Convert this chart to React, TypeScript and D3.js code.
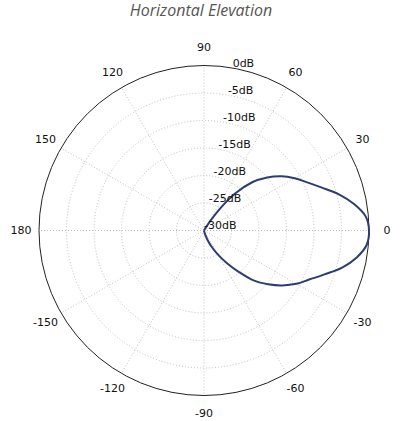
import React from "react";
import * as d3 from "d3";

// Pattern data: angle in degrees (0 = right, counter-clockwise positive), gain in dB
const angles = [-180, -80, -75, -70, -65, -60, -55, -50, -45, -40, -35, -30, -25, -20, -15, -10, -5, 0, 5, 10, 15, 20, 25, 30, 35, 40, 45, 50, 55, 60, 65];
const gains = [-30, -30, -29.5, -28.2, -26.8, -25.0, -22.8, -20.2, -17.1, -14.8, -12.6, -10.6, -8.9, -6.7, -4.0, -1.8, -0.3, 0, -0.5, -2.3, -4.6, -7.2, -9.3, -11.0, -12.8, -15.0, -17.6, -21.3, -26.3, -29.5, -30];

const ringValues = [0, -5, -10, -15, -20, -25, -30];
const ringLabels = ["0dB", "-5dB", "-10dB", "-15dB", "-20dB", "-25dB", "-30dB"];
const spokeAngles = [0, 30, 60, 90, 120, 150, 180, -150, -120, -90, -60, -30];
const spokeLabels = ["0", "30", "60", "90", "120", "150", "180", "-150", "-120", "-90", "-60", "-30"];
const title = "Horizontal Elevation";

export default function App() {
  const W = 400, H = 421;
  const cx = 204, cy = 230.5, R = 165;
  const r = d3.scaleLinear().domain([-30, 0]).range([0, R]).clamp(true);
  const toXY = (deg: number, rad: number): [number, number] => {
    const a = (deg * Math.PI) / 180;
    return [cx + rad * Math.cos(a), cy - rad * Math.sin(a)];
  };
  const pts = angles.map((a, i) => toXY(a, r(gains[i])));
  const line = d3.line().curve(d3.curveCatmullRomClosed.alpha(0.5));
  const pathD = line(pts as [number, number][]) || "";
  const labelAngle = 80;
  const font = "DejaVu Sans, sans-serif";

  return (
    <svg width={W} height={H} style={{ position: "absolute", left: 0, top: 0, background: "#fff" }}>
      <text x={201} y={16} textAnchor="middle" fontFamily="Open Sans, sans-serif" fontStyle="italic" fontSize={16} fill="#555">
        {title}
      </text>
      {ringValues.slice(1, -1).map((v) => (
        <circle key={v} cx={cx} cy={cy} r={r(v)} fill="none" stroke="#b0b0b0" strokeWidth={0.8} strokeDasharray="1,2" />
      ))}
      {spokeAngles.map((a) => {
        const [x, y] = toXY(a, R);
        return <line key={a} x1={cx} y1={cy} x2={x} y2={y} stroke="#b0b0b0" strokeWidth={0.8} strokeDasharray="1,2" />;
      })}
      <circle cx={cx} cy={cy} r={R} fill="none" stroke="#222" strokeWidth={1} />
      <path d={pathD} fill="none" stroke="#2e3d70" strokeWidth={2} strokeLinejoin="round" />
      {ringValues.map((v, i) => {
        const [x, y] = toXY(labelAngle, r(v));
        return (
          <text key={v} x={x} y={y - 1.5} textAnchor="start" fontFamily={font} fontSize={11} fill="#111">
            {ringLabels[i]}
          </text>
        );
      })}
      {spokeAngles.map((a, i) => {
        const [x, y] = toXY(a, 183);
        return (
          <text key={a} x={x} y={y} textAnchor="middle" dominantBaseline="central" fontFamily={font} fontSize={11} fill="#111">
            {spokeLabels[i]}
          </text>
        );
      })}
    </svg>
  );
}
